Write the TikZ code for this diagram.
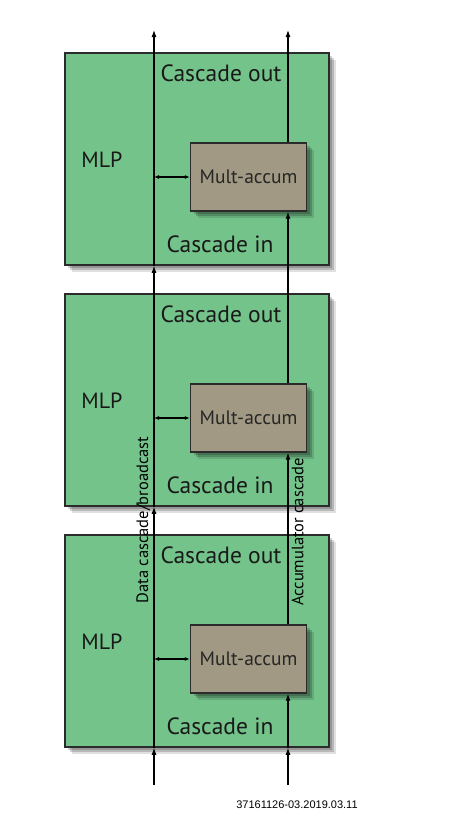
\documentclass[tikz,border=0pt]{standalone}
\usepackage{fontspec}
\setmainfont{PT Sans}
\newfontfamily\stampfont{Liberation Sans}
\usetikzlibrary{arrows.meta,positioning,shadows}
\definecolor{mlpgreen}{HTML}{73C38A}
\definecolor{macgray}{HTML}{A19983}
\definecolor{edgegray}{HTML}{2B2B2B}

\begin{document}
\begin{tikzpicture}[x=1pt,y=1pt,line width=1.1pt,>={Latex[length=7pt,width=5pt]},
  softshadow/.style={drop shadow={shadow xshift=3pt,shadow yshift=-3pt,opacity=0.18,fill=black},drop shadow={shadow xshift=5pt,shadow yshift=-5pt,opacity=0.18,fill=black},drop shadow={shadow xshift=7pt,shadow yshift=-7pt,opacity=0.12,fill=black}},
  mlpblock/.style={draw=edgegray,line width=1.5pt,fill=mlpgreen,minimum width=264pt,minimum height=212pt,softshadow},
  macbox/.style={draw=edgegray,line width=1.4pt,fill=macgray,minimum width=116pt,minimum height=68pt,font=\fontsize{19.5}{22}\selectfont,text=black!85,softshadow},
  blocklabel/.style={font=\fontsize{23.5}{26}\selectfont,inner sep=0pt,text=black!90},
  sidelabel/.style={font=\fontsize{16.5}{18}\selectfont,inner sep=1pt,rotate=90},
  link/.style={<->,>={Latex[length=5pt,width=4pt]}}]
  \useasboundingbox (0,0) rectangle (455,-831);
  \foreach \i/\y in {1/159,2/400,3/641}{
    \node[mlpblock] (b\i) at (197,-\y) {};
    \node[macbox] (m\i) at ([xshift=51.5pt,yshift=-18pt]b\i.center) {Mult-accum};
    \node[blocklabel,font=\fontsize{22}{24}\selectfont] (mlp\i) at ([xshift=-95pt,yshift=-1pt]b\i.center) {MLP};
    \node[blocklabel] (out\i) at ([xshift=24pt,yshift=-21pt]b\i.north) {Cascade out};
    \node[blocklabel] (in\i) at ([xshift=23pt,yshift=21pt]b\i.south) {Cascade in};
  }
  \coordinate (dbot) at (154,-785);
  \coordinate (dtop) at (154,-30);
  \coordinate (abot) at (288,-785);
  \coordinate (atop) at (288,-30);
  \draw[->] (dbot) -- (dbot |- b3.south);
  \draw[->] (dbot |- b3.south) -- (dbot |- b2.south);
  \draw[->] (dbot |- b2.south) -- (dbot |- b1.south);
  \draw[->] (dbot |- b1.south) -- (dtop);
  \draw[->] (abot) -- (abot |- b3.south);
  \draw[->] (abot |- b3.south) -- (abot |- m3.south);
  \draw[->] (abot |- m3.north) -- (abot |- m2.south);
  \draw[->] (abot |- m2.north) -- (abot |- m1.south);
  \draw[->] (abot |- m1.north) -- (atop);
  \draw[link] (dbot |- m1.west) -- (m1.west);
  \draw[link] (dbot |- m2.west) -- (m2.west);
  \draw[link] (dbot |- m3.west) -- (m3.west);
  \node[sidelabel,anchor=south] (dc) at (152,-520) {Data cascade/broadcast};
  \node[sidelabel,anchor=north] (ac) at (290,-532) {Accumulator cascade};
  \node[font=\stampfont\fontsize{11}{13}\selectfont] (stamp) at (297,-805) {37161126-03.2019.03.11};
\end{tikzpicture}
\end{document}
